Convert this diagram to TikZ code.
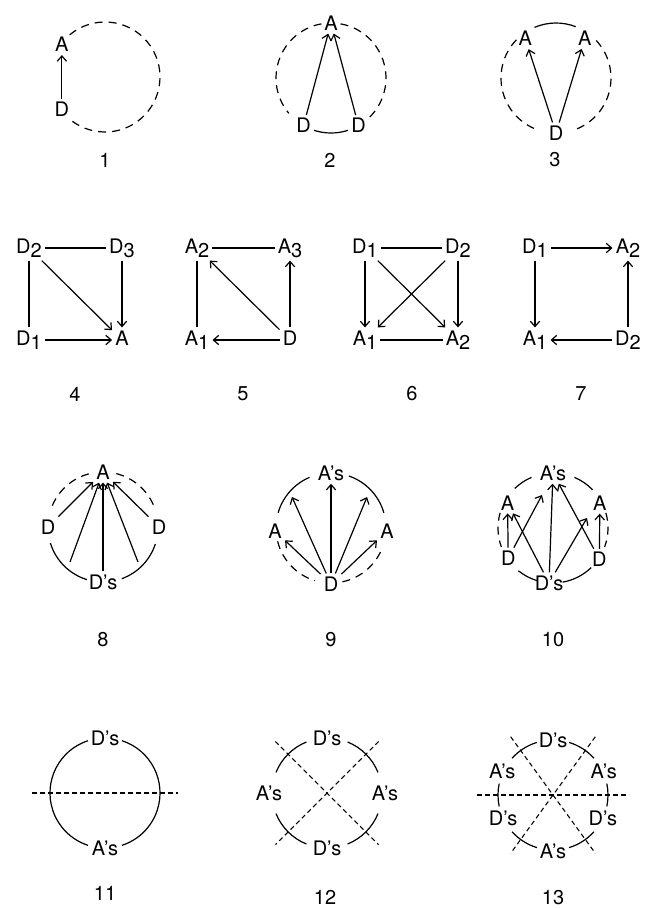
\documentclass[tikz,border=0pt]{standalone}
\usepackage{fontspec}
\setmainfont{TeX Gyre Heros}
\usetikzlibrary{arrows.meta, positioning}

\newcommand{\lowsub}[1]{\raisebox{-0.4ex}{#1}}

\begin{document}
\begin{tikzpicture}[
        x=0.75pt, y=0.75pt,
        node distance=69pt and 69.75pt, on grid,
        every node/.style={inner sep=2pt, font=\fontsize{15}{15}\selectfont},
        vtx/.style={text height=11pt, text depth=3pt},
        line width=0.9pt,
        >={Straight Barb[length=4pt,width=7pt]}, % open barbs like the hand-drawn heads
        ring/.style={dash pattern=on 6pt off 4.5pt},
        cut/.style={dash pattern=on 3.5pt off 2.5pt, line width=0.8pt}
    ]
    \useasboundingbox (0,0) rectangle (645,-908);

    % ---------- row 1: rings with a single pair
    \coordinate (c1) at (105,-77);
    \node (a1) at ([shift={(143:54)}]c1) {A};
    \node (d1) at ([shift={(217:54)}]c1) {D};
    \draw[ring] (c1) ++(130:55) arc[start angle=130, end angle=-132, radius=55];
    \draw[->] (d1) -- (a1);
    \node (n1) at (105,-160) {1};

    \coordinate (c2) at (331,-78);
    \node (a2)  at ([shift={(90:55)}]c2)  {A};
    \node (d2l) at ([shift={(240:55)}]c2) {D};
    \node (d2r) at ([shift={(300:55)}]c2) {D};
    \draw[ring] (c2) ++(100:55) arc[start angle=100, end angle=220, radius=55];
    \draw[ring] (c2) ++(80:55) arc[start angle=80, end angle=-46, radius=55];
    \draw (c2) ++(252:55) arc[start angle=252, end angle=288, radius=55];
    \draw[->] (d2l) -- (a2);
    \draw[->] (d2r) -- (a2);
    \node (n2) at (330,-160) {2};

    \coordinate (c3) at (556,-78);
    \node (a3l) at ([shift={(128:50)}]c3) {A};
    \node (a3r) at ([shift={(54:49)}]c3)  {A};
    \node (d3)  at ([shift={(270:55)}]c3) {D};
    \draw (c3) ++(69:55) arc[start angle=69, end angle=113, radius=55];
    \draw[ring] (c3) ++(136:55) arc[start angle=136, end angle=247, radius=55];
    \draw[ring] (c3) ++(43:55) arc[start angle=43, end angle=-69, radius=55];
    \draw[->] (d3) -- (a3l);
    \draw[->] (d3) -- (a3r);
    \node (n3) at (555,-160) {3};

    % ---------- row 2: squares of donors and acceptors
    \node[vtx] (d42) at (29,-248) {D\lowsub{2}};
    \node[vtx] (d43) [right=of d42] {D\lowsub{3}};
    \node[vtx] (d41) [below=of d42] {D\lowsub{1}};
    \node[vtx] (a4)  [below=of d43] {A};
    \draw (d42) -- (d43);
    \draw (d42) -- (d41);
    \draw[->] (d42) -- (a4);
    \draw[->] (d43) -- (a4);
    \draw[->] (d41) -- (a4);
    \node (n4) at (75,-394) {4};

    \node[vtx] (a52) at (197,-248) {A\lowsub{2}};
    \node[vtx] (a53) [right=of a52] {A\lowsub{3}};
    \node[vtx] (a51) [below=of a52] {A\lowsub{1}};
    \node[vtx] (d5)  [below=of a53] {D};
    \draw (a52) -- (a53);
    \draw (a52) -- (a51);
    \draw[->] (d5) -- (a52);
    \draw[->] (d5) -- (a53);
    \draw[->] (d5) -- (a51);
    \node (n5) at (243,-394) {5};

    \node[vtx] (d61) at (365,-248) {D\lowsub{1}};
    \node[vtx] (d62) [right=of d61] {D\lowsub{2}};
    \node[vtx] (a61) [below=of d61] {A\lowsub{1}};
    \node[vtx] (a62) [below=of d62] {A\lowsub{2}};
    \draw (d61) -- (d62);
    \draw (a61) -- (a62);
    \draw[->] (d61) -- (a61);
    \draw[->] (d62) -- (a62);
    \draw[->] (d61) -- (a62);
    \draw[->] (d62) -- (a61);
    \node (n6) at (412,-394) {6};

    \node[vtx] (d71) at (535,-248) {D\lowsub{1}};
    \node[vtx] (a72) [right=of d71] {A\lowsub{2}};
    \node[vtx] (a71) [below=of d71] {A\lowsub{1}};
    \node[vtx] (d72) [below=of a72] {D\lowsub{2}};
    \draw[->] (d71) -- (a72);
    \draw[->] (d71) -- (a71);
    \draw[->] (d72) -- (a71);
    \draw[->] (d72) -- (a72);
    \node (n7) at (581,-394) {7};

    % ---------- row 3: rings with many partners
    \coordinate (c8) at (103,-527);
    \node (a8)  at ([shift={(90:55)}]c8)  {A};
    \node (d8l) at ([shift={(180:55)}]c8) {D};
    \node (d8r) at ([shift={(0:56)}]c8)   {D};
    \node (s8)  at ([shift={(270:55)}]c8) {D's};
    \coordinate (s8l) at (70,-562);
    \coordinate (s8r) at (138,-562);
    \draw[ring] (c8) ++(105:55) arc[start angle=105, end angle=159, radius=55];
    \draw[ring] (c8) ++(76:55) arc[start angle=76, end angle=18, radius=55];
    \draw (c8) ++(197:55) arc[start angle=197, end angle=253, radius=55];
    \draw (c8) ++(290:55) arc[start angle=290, end angle=342, radius=55];
    \draw[->] (d8l) -- (a8);
    \draw[->] (s8l) -- (a8);
    \draw[->] (s8) -- (a8);
    \draw[->] (s8r) -- (a8);
    \draw[->] (d8r) -- (a8);
    \node (n8) at (103,-640) {8};

    \coordinate (c9) at (331,-528);
    \node (a9)  at ([shift={(90:55)}]c9)  {A's};
    \node (a9l) at ([shift={(183:56)}]c9) {A};
    \node (a9r) at ([shift={(-3:56)}]c9)  {A};
    \node (d9)  at ([shift={(270:56)}]c9) {D};
    \coordinate (t9l) at (292,-497);
    \coordinate (t9r) at (367,-497);
    \draw (c9) ++(113:55) arc[start angle=113, end angle=164, radius=55];
    \draw (c9) ++(71:55) arc[start angle=71, end angle=16, radius=55];
    \draw[ring] (c9) ++(194:55) arc[start angle=194, end angle=253, radius=55];
    \draw[ring] (c9) ++(282:55) arc[start angle=282, end angle=336, radius=55];
    \draw[->] (d9) -- (a9l);
    \draw[->] (d9) -- (t9l);
    \draw[->] (d9) -- (a9);
    \draw[->] (d9) -- (t9r);
    \draw[->] (d9) -- (a9r);
    \node (n9) at (331,-640) {9};

    \coordinate (c10) at (553,-528);
    \node (a10)  at ([shift={(90:55)}]c10)  {A's};
    \node (a10l) at ([shift={(151:52)}]c10) {A};
    \node (a10r) at ([shift={(28:53)}]c10)  {A};
    \node (d10l) at ([shift={(214:54)}]c10) {D};
    \node (d10r) at ([shift={(-34:56)}]c10) {D};
    \node (s10)  at (549,-583) {D's};
    \coordinate (u10l) at (542,-495);
    \coordinate (u10r) at (587,-518);
    \draw (c10) ++(113:55) arc[start angle=113, end angle=134, radius=55];
    \draw (c10) ++(67:55) arc[start angle=67, end angle=44, radius=55];
    \draw[ring] (c10) ++(164:55) arc[start angle=164, end angle=200, radius=55];
    \draw[ring] (c10) ++(16:55) arc[start angle=16, end angle=-20, radius=55];
    \draw (c10) ++(231:55) arc[start angle=231, end angle=253, radius=55];
    \draw (c10) ++(280:55) arc[start angle=280, end angle=314, radius=55];
    \draw[->] (d10l) -- (a10l);
    \draw[->] (d10l) -- (u10l);
    \draw[->] (s10) -- (a10l);
    \draw[->] (s10) -- (a10);
    \draw[->] (s10) -- (u10r);
    \draw[->] (d10r) -- (a10);
    \draw[->] (d10r) -- (a10r);
    \node (n10) at (553,-640) {10};

    % ---------- row 4: stacks cut by mirror planes
    \coordinate (c11) at (105,-793);
    \node (d11) at ([shift={(90:55)}]c11)  {D's};
    \node (a11) at ([shift={(270:55)}]c11) {A's};
    \coordinate (h11l) at (32,-793);
    \coordinate (h11r) at (178,-793);
    \draw (c11) ++(72:55) arc[start angle=72, end angle=-72, radius=55];
    \draw (c11) ++(108:55) arc[start angle=108, end angle=252, radius=55];
    \draw[cut] (h11l) -- (h11r);
    \node (n11) at (105,-893) {11};

    \coordinate (c12) at (327,-793);
    \node (d12t) at ([shift={(90:55)}]c12)  {D's};
    \node (d12b) at ([shift={(270:55)}]c12) {D's};
    \node (a12l) at ([shift={(180:58)}]c12) {A's};
    \node (a12r) at ([shift={(0:58)}]c12)   {A's};
    \coordinate (q12a) at ([shift={(135:73)}]c12);
    \coordinate (q12b) at ([shift={(-45:73)}]c12);
    \coordinate (q12c) at ([shift={(45:73)}]c12);
    \coordinate (q12d) at ([shift={(225:73)}]c12);
    \foreach \s in {22,112,202,292}
        \draw (c12) ++(\s:55) arc[start angle=\s, delta angle=46, radius=55];
    \draw[cut] (q12a) -- (q12b);
    \draw[cut] (q12c) -- (q12d);
    \node (n12) at (325,-897) {12};

    \coordinate (c13) at (553,-795);
    \node (d13t) at ([shift={(90:55)}]c13)  {D's};
    \node (a13b) at ([shift={(270:56)}]c13) {A's};
    \node (a13l) at ([shift={(155:56)}]c13) {A's};
    \node (a13r) at ([shift={(25:56)}]c13)  {A's};
    \node (d13l) at ([shift={(205:55)}]c13) {D's};
    \node (d13r) at ([shift={(-25:55)}]c13) {D's};
    \coordinate (h13l) at ([shift={(180:76)}]c13);
    \coordinate (h13r) at ([shift={(0:76)}]c13);
    \coordinate (q13a) at ([shift={(126:72)}]c13);
    \coordinate (q13b) at ([shift={(-54:72)}]c13);
    \coordinate (q13c) at ([shift={(54:72)}]c13);
    \coordinate (q13d) at ([shift={(234:72)}]c13);
    \foreach \s/\e in {107/138, 42/73, 168/192, -12/12, 222/253, 287/318}
        \draw (c13) ++(\s:55) arc[start angle=\s, end angle=\e, radius=55];
    \draw[cut] (h13l) -- (h13r);
    \draw[cut] (q13a) -- (q13b);
    \draw[cut] (q13c) -- (q13d);
    \node (n13) at (553,-898) {13};

\end{tikzpicture}
\end{document}
